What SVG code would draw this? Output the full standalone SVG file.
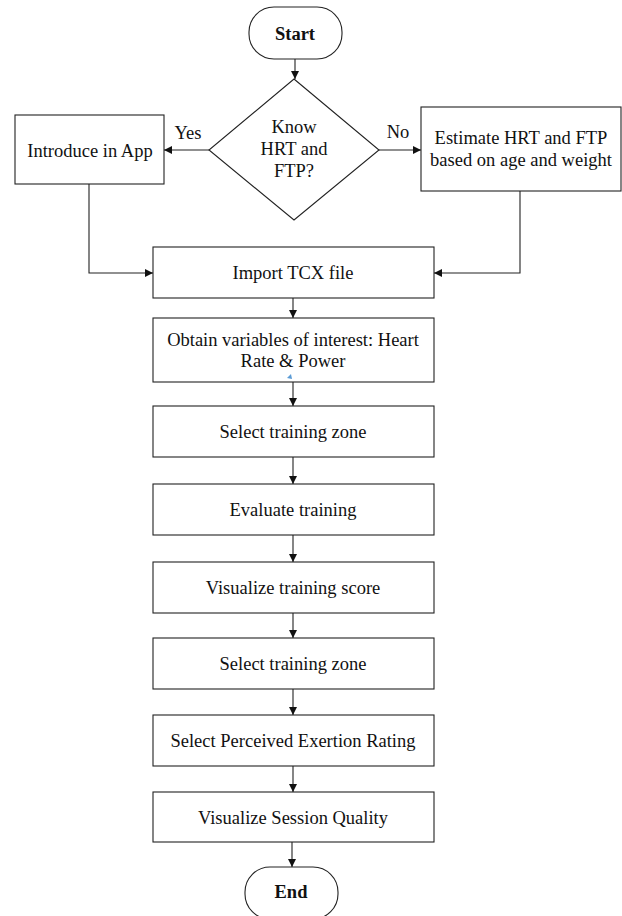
<svg xmlns="http://www.w3.org/2000/svg" width="622" height="916" viewBox="0 0 622 916">
<style>
.box{fill:#fff;stroke:#222;stroke-width:1.1}
.t{font-family:"Liberation Serif","Times New Roman",serif;font-size:18.5px;fill:#111;text-anchor:middle}
.b{font-weight:bold}
.c{fill:none;stroke:#222;stroke-width:1.1}
</style>
<defs>
<marker id="ah" markerUnits="userSpaceOnUse" markerWidth="10" markerHeight="10" refX="8" refY="4" orient="auto">
<path d="M0,0 L8,4 L0,8 Z" fill="#111"/>
</marker>
</defs>
<rect width="622" height="916" fill="#fff"/>
<g id="connectors">
<line class="c" x1="295" y1="59" x2="295" y2="79" marker-end="url(#ah)"/>
<line class="c" x1="209" y1="150" x2="164" y2="150" marker-end="url(#ah)"/>
<line class="c" x1="379" y1="150" x2="421" y2="150" marker-end="url(#ah)"/>
<polyline class="c" points="89,184 89,273 153,273" marker-end="url(#ah)"/>
<polyline class="c" points="520,191 520,273 434,273" marker-end="url(#ah)"/>
<line class="c" x1="293" y1="298" x2="293" y2="318" marker-end="url(#ah)"/>
<line class="c" x1="293" y1="382" x2="293" y2="406" marker-end="url(#ah)"/>
<line class="c" x1="293" y1="457" x2="293" y2="484" marker-end="url(#ah)"/>
<line class="c" x1="293" y1="535" x2="293" y2="562" marker-end="url(#ah)"/>
<line class="c" x1="293" y1="613" x2="293" y2="638" marker-end="url(#ah)"/>
<line class="c" x1="293" y1="689" x2="293" y2="715" marker-end="url(#ah)"/>
<line class="c" x1="293" y1="766" x2="293" y2="792" marker-end="url(#ah)"/>
<line class="c" x1="292" y1="842" x2="292" y2="867" marker-end="url(#ah)"/>
<text class="t" x="188" y="139">Yes</text>
<text class="t" x="398" y="138">No</text>
</g>
<g id="start"><rect class="box" x="249" y="7" width="93" height="52" rx="25"/><text class="t b" x="295" y="40">Start</text></g>
<g id="decision"><polygon class="box" points="294,79 379,150 294,220 209,150"/>
<text class="t" x="294" y="133">Know</text><text class="t" x="294" y="155">HRT and</text><text class="t" x="294" y="177">FTP?</text></g>
<g id="introduce"><rect class="box" x="15" y="115" width="149" height="69"/><text class="t" x="90" y="157">Introduce in App</text></g>
<g id="estimate"><rect class="box" x="421" y="107" width="200" height="84"/><text class="t" x="521" y="144">Estimate HRT and FTP</text><text class="t" x="521" y="166">based on age and weight</text></g>
<g id="import"><rect class="box" x="153" y="247" width="281" height="51"/><text class="t" x="293" y="279">Import TCX file</text></g>
<g id="obtain"><rect class="box" x="153" y="318" width="281" height="64"/><text class="t" x="293" y="346">Obtain variables of interest: Heart</text><text class="t" x="293" y="367">Rate &amp; Power</text>
<path d="M287,378 L291,374 L292,379 Z" fill="#5b9bd5"/></g>
<g id="zone1"><rect class="box" x="153" y="406" width="281" height="51"/><text class="t" x="293" y="438">Select training zone</text></g>
<g id="evaluate"><rect class="box" x="153" y="484" width="281" height="51"/><text class="t" x="293" y="516">Evaluate training</text></g>
<g id="score"><rect class="box" x="153" y="562" width="281" height="51"/><text class="t" x="293" y="594">Visualize training score</text></g>
<g id="zone2"><rect class="box" x="153" y="638" width="281" height="51"/><text class="t" x="293" y="670">Select training zone</text></g>
<g id="rpe"><rect class="box" x="153" y="715" width="281" height="51"/><text class="t" x="293" y="747">Select Perceived Exertion Rating</text></g>
<g id="quality"><rect class="box" x="153" y="792" width="281" height="50"/><text class="t" x="293" y="824">Visualize Session Quality</text></g>
<g id="end"><rect class="box" x="245" y="867" width="93" height="52" rx="25"/><text class="t b" x="291" y="898">End</text></g>
</svg>
